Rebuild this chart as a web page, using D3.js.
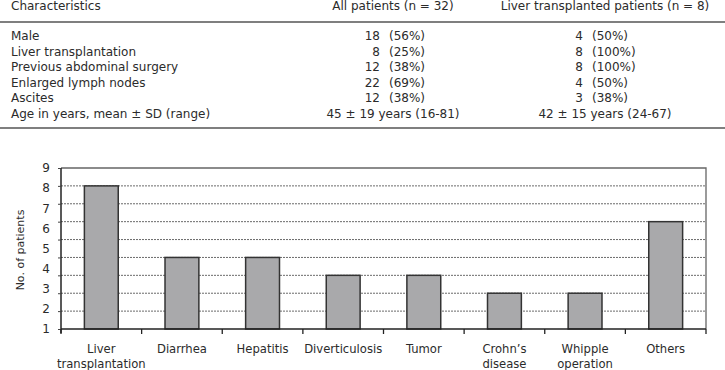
<!DOCTYPE html>
<html>
<head>
<meta charset="utf-8">
<script src="https://cdn.jsdelivr.net/npm/d3@7"></script>
<style>
body { margin: 0; background: #fff; }
text { font-family: "DejaVu Sans", sans-serif; fill: #2b2b2b; }
</style>
</head>
<body>
<div id="chart"></div>
<script>
// table data
var columns = ["Characteristics", "All patients (n = 32)", "Liver transplanted patients (n = 8)"];
var characteristics = ["Male", "Liver transplantation", "Previous abdominal surgery", "Enlarged lymph nodes", "Ascites", "Age in years, mean ± SD (range)"];
var allCount = [18, 8, 12, 22, 12];
var allPct = ["(56%)", "(25%)", "(38%)", "(69%)", "(38%)"];
var ltCount = [4, 8, 8, 4, 3];
var ltPct = ["(50%)", "(100%)", "(100%)", "(50%)", "(38%)"];
var ageRow = ["45 ± 19 years (16-81)", "42 ± 15 years (24-67)"];

// chart data
var categories = [["Liver", "transplantation"], ["Diarrhea"], ["Hepatitis"], ["Diverticulosis"], ["Tumor"], ["Crohn’s", "disease"], ["Whipple", "operation"], ["Others"]];
var patients = [8, 4, 4, 3, 3, 2, 2, 6];
var yTickLabels = [1, 2, 3, 4, 5, 6, 7, 8, 9];

var w = 725, h = 370;
var svg = d3.select("#chart").append("svg")
	.attr("width", w)
	.attr("height", h);

// ---- table ----
var rowY = d3.scaleLinear().domain([0, 5]).range([40, 117.5]);
var col2 = 393, col3 = 605;

svg.append("text").attr("x", 11).attr("y", 9.5).style("font-size", "12px").text(columns[0]);
svg.append("text").attr("x", col2).attr("y", 9.5).attr("text-anchor", "middle").style("font-size", "12px").text(columns[1]);
svg.append("text").attr("x", col3).attr("y", 9.5).attr("text-anchor", "middle").style("font-size", "12px").text(columns[2]);

[22, 128].forEach(function(yy){
	svg.append("line")
		.attr("x1", 0).attr("x2", w)
		.attr("y1", yy).attr("y2", yy)
		.attr("stroke", "#555").attr("stroke-width", 1.4);
});

var tbl = svg.append("g").style("font-size", "12px");
tbl.selectAll(".lab").data(characteristics).enter().append("text")
	.attr("x", 11)
	.attr("y", function(d, i){ return rowY(i); })
	.text(function(d){ return d; });

function numCol(counts, pcts, xr){
	tbl.selectAll(null).data(counts).enter().append("text")
		.attr("x", xr)
		.attr("y", function(d, i){ return rowY(i); })
		.attr("text-anchor", "end")
		.text(function(d){ return d; });
	tbl.selectAll(null).data(pcts).enter().append("text")
		.attr("x", xr + 9)
		.attr("y", function(d, i){ return rowY(i); })
		.text(function(d){ return d; });
}
numCol(allCount, allPct, 380);
numCol(ltCount, ltPct, 583);

tbl.selectAll(null).data(ageRow).enter().append("text")
	.attr("x", function(d, i){ return i == 0 ? col2 : col3; })
	.attr("y", rowY(5))
	.attr("text-anchor", "middle")
	.text(function(d){ return d; });

// ---- bar chart ----
var plotL = 61, plotR = 706, plotB = 329, plotT = 168;

var x = d3.scaleBand()
	.domain(d3.range(categories.length))
	.range([plotL, plotR])
	.padding(0);

var y = d3.scaleLinear()
	.domain([0, 9])
	.range([plotB, plotT]);

// the printed tick labels are spread over the same height
var yLab = d3.scaleLinear()
	.domain([1, 9])
	.range([plotB, plotT]);

var g = svg.append("g");

// gridlines
g.selectAll(".grid").data(d3.range(1, 9)).enter().append("line")
	.attr("x1", plotL).attr("x2", plotR)
	.attr("y1", function(d){ return y(d); })
	.attr("y2", function(d){ return y(d); })
	.attr("stroke", "#6a6a6a")
	.attr("stroke-width", 1)
	.attr("stroke-dasharray", "2,1");

// frame top and right
g.append("path")
	.attr("d", `M${plotL},${y(9)}H${plotR}V${plotB}`)
	.attr("fill", "none")
	.attr("stroke", "#666")
	.attr("stroke-width", 1.3);

// bars
var bw = x.bandwidth() * 0.42;
g.selectAll("rect").data(patients).enter().append("rect")
	.attr("x", function(d, i){ return x(i) + x.bandwidth() / 2 - bw / 2; })
	.attr("y", function(d){ return y(d); })
	.attr("width", bw)
	.attr("height", function(d){ return y(0) - y(d); })
	.attr("fill", "#a9a9ab")
	.attr("stroke", "#333")
	.attr("stroke-width", 1.5);

// y axis: tick marks at the gridlines
var yAxis = g.append("g")
	.attr("transform", `translate(${plotL},0)`)
	.call(d3.axisLeft(y).tickValues(d3.range(0, 10)).tickSize(3).tickFormat(""));
yAxis.select(".domain").attr("stroke", "#222").attr("stroke-width", 1.5)
	.attr("d", `M0,${y(9)}V${plotB + 4}`);
yAxis.selectAll(".tick line").attr("stroke", "#444");

// y tick labels
g.append("g")
	.attr("transform", `translate(${plotL},0)`)
	.call(d3.axisLeft(yLab).tickValues(yTickLabels).tickSize(0).tickPadding(11))
	.call(function(a){ a.select(".domain").remove(); })
	.selectAll("text")
	.attr("fill", "#2b2b2b")
	.style("font-size", "12px")
	.style("font-family", "DejaVu Sans, sans-serif");

// x axis line and boundary ticks
g.append("line")
	.attr("x1", plotL).attr("x2", plotR)
	.attr("y1", plotB).attr("y2", plotB)
	.attr("stroke", "#222").attr("stroke-width", 1.5);
g.selectAll(".xt").data(d3.range(categories.length + 1)).enter().append("line")
	.attr("x1", function(d){ return d < categories.length ? x(d) : plotR; })
	.attr("x2", function(d){ return d < categories.length ? x(d) : plotR; })
	.attr("y1", plotB).attr("y2", plotB + 5)
	.attr("stroke", "#222").attr("stroke-width", 1.3);

// x labels
var xl = g.selectAll(".xl").data(categories).enter().append("text")
	.attr("text-anchor", "middle")
	.style("font-size", "11.6px");
xl.selectAll("tspan").data(function(d, i){ return d.map(function(s){ return {s: s, i: i}; }); })
	.enter().append("tspan")
	.attr("x", function(d){ return x(d.i) + x.bandwidth() / 2; })
	.attr("y", function(d, j){ return 353 + j * 14.5; })
	.text(function(d){ return d.s; });

// y title
g.append("text")
	.attr("transform", `translate(24,250) rotate(-90)`)
	.attr("text-anchor", "middle")
	.style("font-size", "11px")
	.text("No. of patients");
</script>
</body>
</html>
